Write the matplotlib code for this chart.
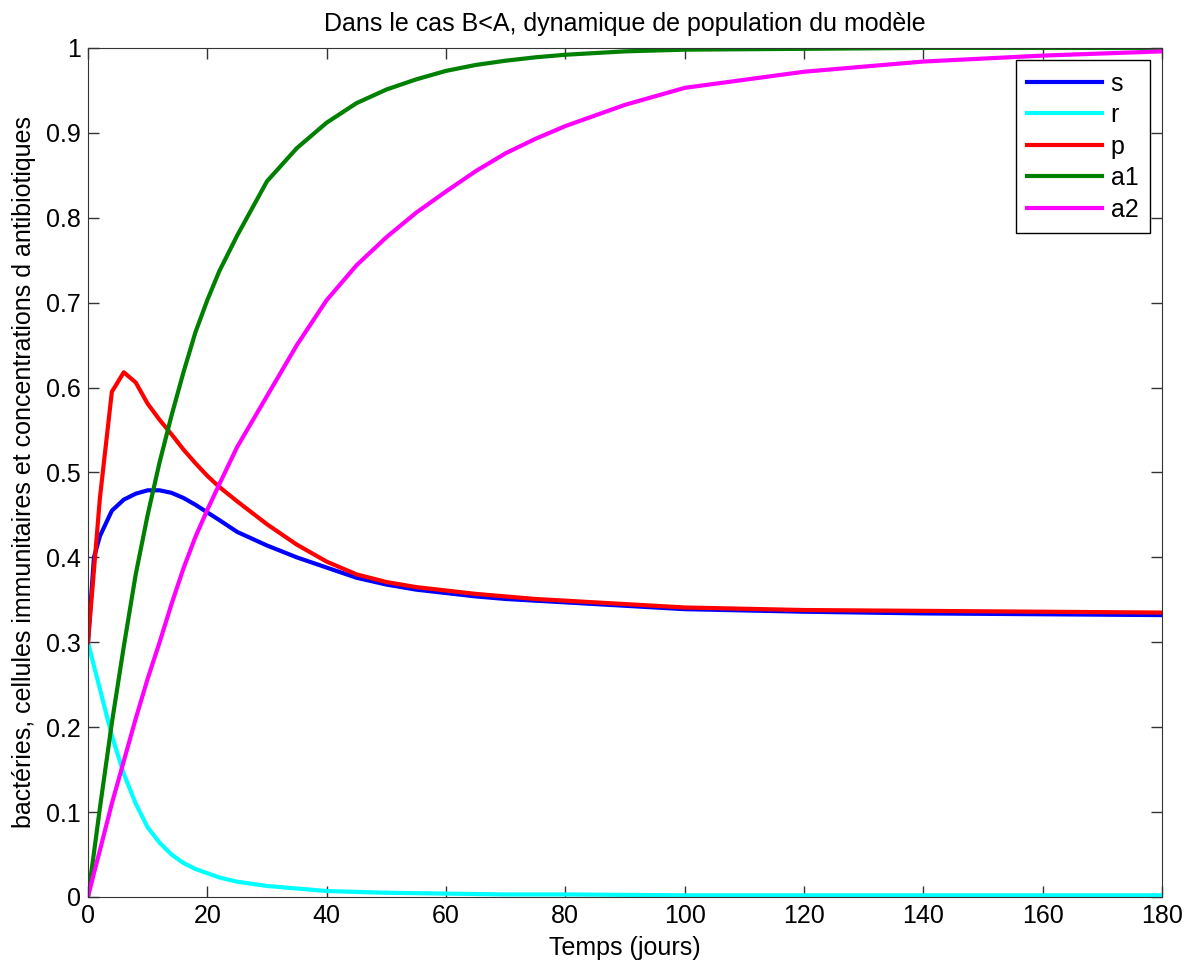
import numpy as np
import matplotlib
matplotlib.use("Agg")
import matplotlib.pyplot as plt

# time grid (days)
t = [0, 1, 2, 4, 6, 8, 10, 12, 14, 16, 18, 20, 22, 25, 30, 35, 40, 45, 50,
     55, 60, 65, 70, 75, 80, 90, 100, 120, 140, 160, 180]

s = [0.30, 0.40, 0.425, 0.455, 0.468, 0.475, 0.479, 0.479, 0.476, 0.470, 0.462,
     0.453, 0.444, 0.430, 0.414, 0.400, 0.388, 0.376, 0.368, 0.362, 0.358,
     0.354, 0.351, 0.349, 0.347, 0.343, 0.339, 0.336, 0.334, 0.333, 0.332]
r = [0.30, 0.272, 0.245, 0.19, 0.145, 0.11, 0.082, 0.064, 0.05, 0.04, 0.033,
     0.028, 0.023, 0.018, 0.013, 0.010, 0.007, 0.006, 0.005, 0.0045, 0.004,
     0.0035, 0.003, 0.003, 0.003, 0.0025, 0.002, 0.002, 0.002, 0.002, 0.002]
p = [0.30, 0.385, 0.47, 0.595, 0.618, 0.606, 0.581, 0.562, 0.545, 0.527, 0.511,
     0.496, 0.483, 0.466, 0.439, 0.415, 0.395, 0.380, 0.371, 0.365, 0.361,
     0.357, 0.354, 0.351, 0.349, 0.345, 0.341, 0.338, 0.337, 0.336, 0.335]
a1 = [0.0, 0.052, 0.105, 0.205, 0.295, 0.38, 0.45, 0.512, 0.567, 0.618, 0.665,
      0.703, 0.737, 0.779, 0.843, 0.882, 0.912, 0.935, 0.951, 0.963, 0.973,
      0.980, 0.985, 0.989, 0.992, 0.996, 0.998, 0.999, 1.0, 1.0, 1.0]
a2 = [0.0, 0.028, 0.055, 0.11, 0.16, 0.21, 0.257, 0.30, 0.345, 0.387, 0.424,
      0.456, 0.486, 0.53, 0.59, 0.65, 0.703, 0.744, 0.777, 0.806, 0.831,
      0.855, 0.876, 0.893, 0.908, 0.933, 0.953, 0.972, 0.984, 0.991, 0.996]

series = [("s", s, (0, 0, 1)), ("r", r, (0, 1, 1)), ("p", p, (1, 0, 0)),
          ("a1", a1, (0, 0.5, 0)), ("a2", a2, (1, 0, 1))]

FS = 18
plt.rcParams["font.family"] = ["Liberation Sans", "DejaVu Sans"]
plt.rcParams["font.size"] = FS

fig = plt.figure(figsize=(11.97, 9.67), dpi=100)
ax = fig.add_axes([0.0735, 0.0724, 0.8973, 0.878])

for name, vals, col in series:
    ax.plot(t, vals, color=col, lw=3, label=name)

ax.set_xlim(0, 180)
ax.set_ylim(0, 1)
ax.set_xticks(np.arange(0, 181, 20))
yt = np.round(np.arange(0, 1.01, 0.1), 1)
ax.set_yticks(yt)
ax.set_yticklabels(["0" if v == 0 else ("1" if v == 1 else f"{v:g}") for v in yt])
ax.tick_params(direction="in", length=8, top=True, right=True, width=1,
               color="#333333", labelsize=FS, pad=5)
for sp in ax.spines.values():
    sp.set_color("#333333")

ax.set_title("Dans le cas B<A, dynamique de population du modèle", fontsize=FS, pad=12)
ax.set_xlabel("Temps (jours)", fontsize=FS, labelpad=6)
ax.set_ylabel("bactéries, cellules immunitaires et concentrations d antibiotiques",
              fontsize=FS, labelpad=7)

leg = ax.legend(loc="upper right", fancybox=False, framealpha=1, edgecolor="black",
                handlelength=3.0, handletextpad=0.35, borderaxespad=0.5,
                borderpad=0.45, fontsize=FS, labelspacing=0.3)
leg.get_frame().set_linewidth(1)

fig.savefig("out.png", dpi=100)
